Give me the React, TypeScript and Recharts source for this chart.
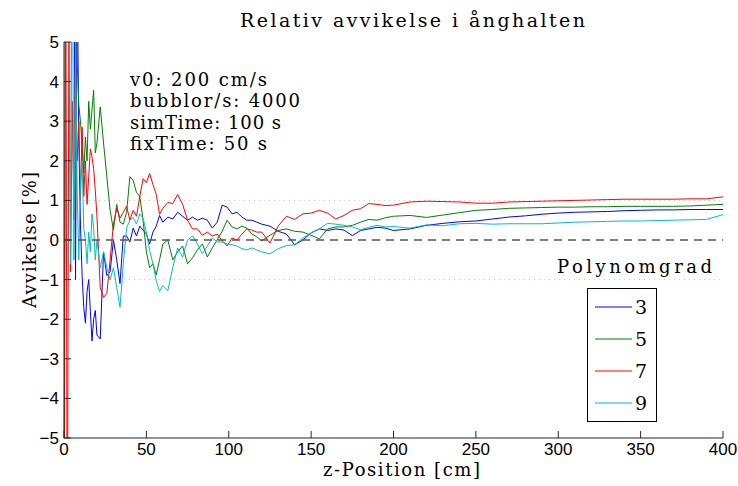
import React from "react";
import { Legend, Line, LineChart, ReferenceLine, XAxis, YAxis } from "recharts";

// z-position [cm]
const zPos = [
  0, 1, 2, 3, 4, 5, 6, 7, 8, 9, 10, 11, 12, 13, 14, 15, 16, 17, 18, 19, 20,
  22, 24, 26, 28, 30, 32, 34, 36, 38, 40, 42, 44, 46, 48, 50, 52, 54, 56, 58, 60,
  63, 66, 69, 72, 75, 78, 81, 84, 87, 90, 93, 96, 99, 102, 105, 108, 111, 114, 117, 120,
  125, 130, 135, 140, 145, 150, 155, 160, 165, 170, 175, 180, 185, 190, 195, 200,
  210, 220, 230, 240, 250, 260, 270, 280, 290, 300, 310, 320, 330, 340, 350, 360, 370, 380, 390, 400,
];

// deviation [%] per polynomial degree
const grad3 = [
  9, 9, 9, 9, 9, 9, 8, -1, 7, 2.5, 0.4, -0.9, -1.7, -2.1, -1.3, -1.0, -1.8, -2.55, -2.0, -1.78, -2.4,
  -2.5, -0.3, -0.9, -0.8, 0.0, -0.5, -1.1, 0.1, 0.1, -0.05, 0.3, 0.1, 0.35, 0.25, 0.15, -0.1, 0.2, 0.35, 0.62, 0.45,
  0.58, 0.53, 0.7, 0.6, 0.5, 0.58, 0.5, 0.55, 0.5, 0.3, 0.45, 0.88, 0.83, 0.66, 0.7, 0.58, 0.5, 0.5, 0.45, 0.4,
  0.35, 0.22, 0.15, -0.12, 0.0, 0.18, 0.28, 0.24, 0.28, 0.25, 0.11, 0.24, 0.28, 0.32, 0.3, 0.24,
  0.28, 0.37, 0.42, 0.46, 0.48, 0.53, 0.58, 0.61, 0.65, 0.68, 0.7, 0.71, 0.72, 0.74, 0.75, 0.76, 0.76, 0.77, 0.77, 0.77,
];
const grad5 = [
  -9, 9, 9, 9, 9, 9, 9, 7, 4.5, 3.4, 3.0, 2.4, 1.7, 2.6, 2.0, 3.5, 2.8, 3.3, 3.78, 2.2, 2.45,
  3.36, 2.45, 1.6, 0.75, 0.25, 0.9, 0.45, 0.4, 0.7, 1.6, 1.5, 1.2, 1.1, 0.5, -0.3, -0.7, -0.6, -0.88, -0.5, -0.1,
  0.0, -0.5, -0.3, -0.15, -0.6, -0.45, -0.25, -0.1, -0.43, -0.2, 0.0, 0.22, 0.5, 0.33, 0.28, 0.35, 0.3, 0.15, 0.08, -0.02,
  0.12, 0.24, 0.28, 0.22, 0.2, 0.12, 0.03, 0.28, 0.33, 0.33, 0.37, 0.45, 0.52, 0.5, 0.56, 0.6,
  0.62, 0.57, 0.63, 0.69, 0.75, 0.77, 0.8, 0.81, 0.82, 0.83, 0.83, 0.84, 0.84, 0.85, 0.85, 0.85, 0.85, 0.86, 0.88, 0.9,
];
const grad7 = [
  -9, 9, -9, 6, -0.8, 3.5, 0.5, 4.5, 2.0, 3.0, 1.0, 2.85, 1.1, 2.0, 0.9, 1.6, 2.3, 2.1, 1.8, 1.25, 0.6,
  -1.2, -1.45, -1.35, -0.5, 0.4, 0.8, 0.55, 0.7, 0.85, 0.5, 0.75, 0.6, 1.1, 1.55, 1.45, 1.68, 1.4, 1.15, 0.65, 0.8,
  0.95, 0.92, 1.15, 0.9, 0.5, 0.28, 0.28, 0.12, 0.2, 0.1, 0.15, -0.02, -0.15, 0.05, 0.0, 0.15, 0.28, 0.25, 0.2, 0.2,
  -0.08, 0.35, 0.6, 0.52, 0.66, 0.68, 0.75, 0.68, 0.53, 0.62, 0.75, 0.79, 0.92, 0.9, 0.87, 0.88,
  0.96, 0.98, 0.97, 0.96, 0.93, 0.93, 0.96, 0.97, 0.98, 0.99, 1.0, 1.01, 1.02, 1.03, 1.03, 1.03, 1.03, 1.04, 1.04, 1.09,
];
const grad9 = [
  9, 9, 9, 9, -0.6, 9, -0.5, 5, 1.2, -0.5, 1.5, 2.0, 0.3, 0.0, -0.6, 0.2, -0.3, 0.66, 0.3, -0.5, 0.0,
  -0.7, -0.3, -0.7, -1.0, -0.7, -1.2, -1.7, -0.6, 0.3, 0.5, 0.57, 0.4, 0.66, 0.55, 0.2, -0.27, -0.6, -1.03, -1.3, -1.15,
  -1.28, -0.7, -0.2, -0.43, 0.0, 0.1, -0.1, -0.35, -0.15, 0.05, -0.05, -0.05, -0.1, -0.12, -0.15, -0.22, -0.25, -0.2, -0.25, -0.3,
  -0.35, -0.22, -0.14, -0.12, 0.05, 0.18, 0.28, 0.42, 0.4, 0.37, 0.33, 0.26, 0.32, 0.37, 0.33, 0.34,
  0.3, 0.38, 0.36, 0.41, 0.42, 0.4, 0.41, 0.41, 0.41, 0.43, 0.45, 0.46, 0.47, 0.48, 0.48, 0.49, 0.5, 0.51, 0.52, 0.64,
];

const xTicks = [0, 50, 100, 150, 200, 250, 300, 350, 400];
const yTicks = [-5, -4, -3, -2, -1, 0, 1, 2, 3, 4, 5];
const infoLines = ["v0: 200 cm/s", "bubblor/s: 4000", "simTime: 100 s", "fixTime: 50 s"];
const infoWidths = [137, 170, 151, 137];

const data = zPos.map((z, i) => ({ z, g3: grad3[i], g5: grad5[i], g7: grad7[i], g9: grad9[i] }));

const serif = '"DejaVu Serif", "Liberation Serif", serif';
const sans = '"Liberation Sans Narrow", "Liberation Sans", Arial, sans-serif';
const tickStyle = { fontFamily: sans, fontSize: 17, fill: "#000" };

const fmtY = (v: number) => (v < 0 ? `\u2212${-v}` : `${v}`);

function LegendBox(props: any) {
  const { payload = [] } = props;
  return (
    <div style={{ width: 70, height: 134, border: "1.5px solid #000", background: "#fff", boxSizing: "border-box", paddingTop: 2 }}>
      {payload.map((entry: any) => (
        <div key={entry.value} style={{ display: "flex", alignItems: "center", height: 32 }}>
          <svg width={47} height={10}>
            <line x1={7} x2={44} y1={5} y2={5} stroke={entry.color} strokeWidth={1} />
          </svg>
          <span style={{ fontFamily: serif, fontSize: 19, lineHeight: "21px" }}>{entry.value}</span>
        </div>
      ))}
    </div>
  );
}

export default function App() {
  return (
    <div style={{ position: "absolute", left: 0, top: 0, width: 738, height: 486, background: "#fff" }}>
      <LineChart width={738} height={486} data={data} margin={{ top: 42, right: 15, bottom: 0, left: 4 }}>
        <XAxis
          dataKey="z"
          type="number"
          domain={[0, 400]}
          ticks={xTicks}
          height={48}
          tickSize={-7}
          tickMargin={12}
          stroke="#262626"
          tick={tickStyle}
          interval={0}
        />
        <YAxis
          type="number"
          domain={[-5, 5]}
          ticks={yTicks}
          allowDataOverflow
          width={60}
          tickSize={-7}
          tickMargin={12}
          stroke="#262626"
          tick={tickStyle}
          tickFormatter={fmtY}
          interval={0}
        />
        <ReferenceLine y={1} stroke="#c8c8c8" strokeDasharray="1 4" />
        <ReferenceLine y={-1} stroke="#c8c8c8" strokeDasharray="1 4" />
        <Line dataKey="g3" name="3" stroke="#0000ff" strokeWidth={1} dot={false} isAnimationActive={false} />
        <Line dataKey="g5" name="5" stroke="#008000" strokeWidth={1} dot={false} isAnimationActive={false} />
        <Line dataKey="g7" name="7" stroke="#ff0000" strokeWidth={1} dot={false} isAnimationActive={false} />
        <Line dataKey="g9" name="9" stroke="#00bfbf" strokeWidth={1} dot={false} isAnimationActive={false} />
        <ReferenceLine y={0} stroke="#555" strokeWidth={1.5} strokeDasharray="8 6" />
        <Legend
          layout="vertical"
          align="center"
          verticalAlign="middle"
          content={<LegendBox />}
          wrapperStyle={{ left: 587, top: 288, width: 70, height: 134 }}
        />
      </LineChart>
      <svg width={738} height={486} style={{ position: "absolute", left: 0, top: 0, pointerEvents: "none" }}>
        <text x={240} y={27} fontFamily={serif} fontSize={19} textLength={345} lengthAdjust="spacing">
          Relativ avvikelse i ånghalten
        </text>
        {infoLines.map((t, i) => (
          <text key={t} x={130} y={86 + i * 21.4} fontFamily={serif} fontSize={18} textLength={infoWidths[i]} lengthAdjust="spacing">
            {t}
          </text>
        ))}
        <text x={557} y={273} fontFamily={serif} fontSize={18} textLength={155} lengthAdjust="spacing">
          Polynomgrad
        </text>
        <text x={323} y={476} fontFamily={serif} fontSize={18} textLength={157} lengthAdjust="spacing">
          z-Position [cm]
        </text>
        <text
          x={36}
          y={308}
          fontFamily={serif}
          fontSize={18}
          textLength={136}
          lengthAdjust="spacing"
          transform="rotate(-90 36 308)"
        >
          Avvikelse [%]
        </text>
      </svg>
    </div>
  );
}
